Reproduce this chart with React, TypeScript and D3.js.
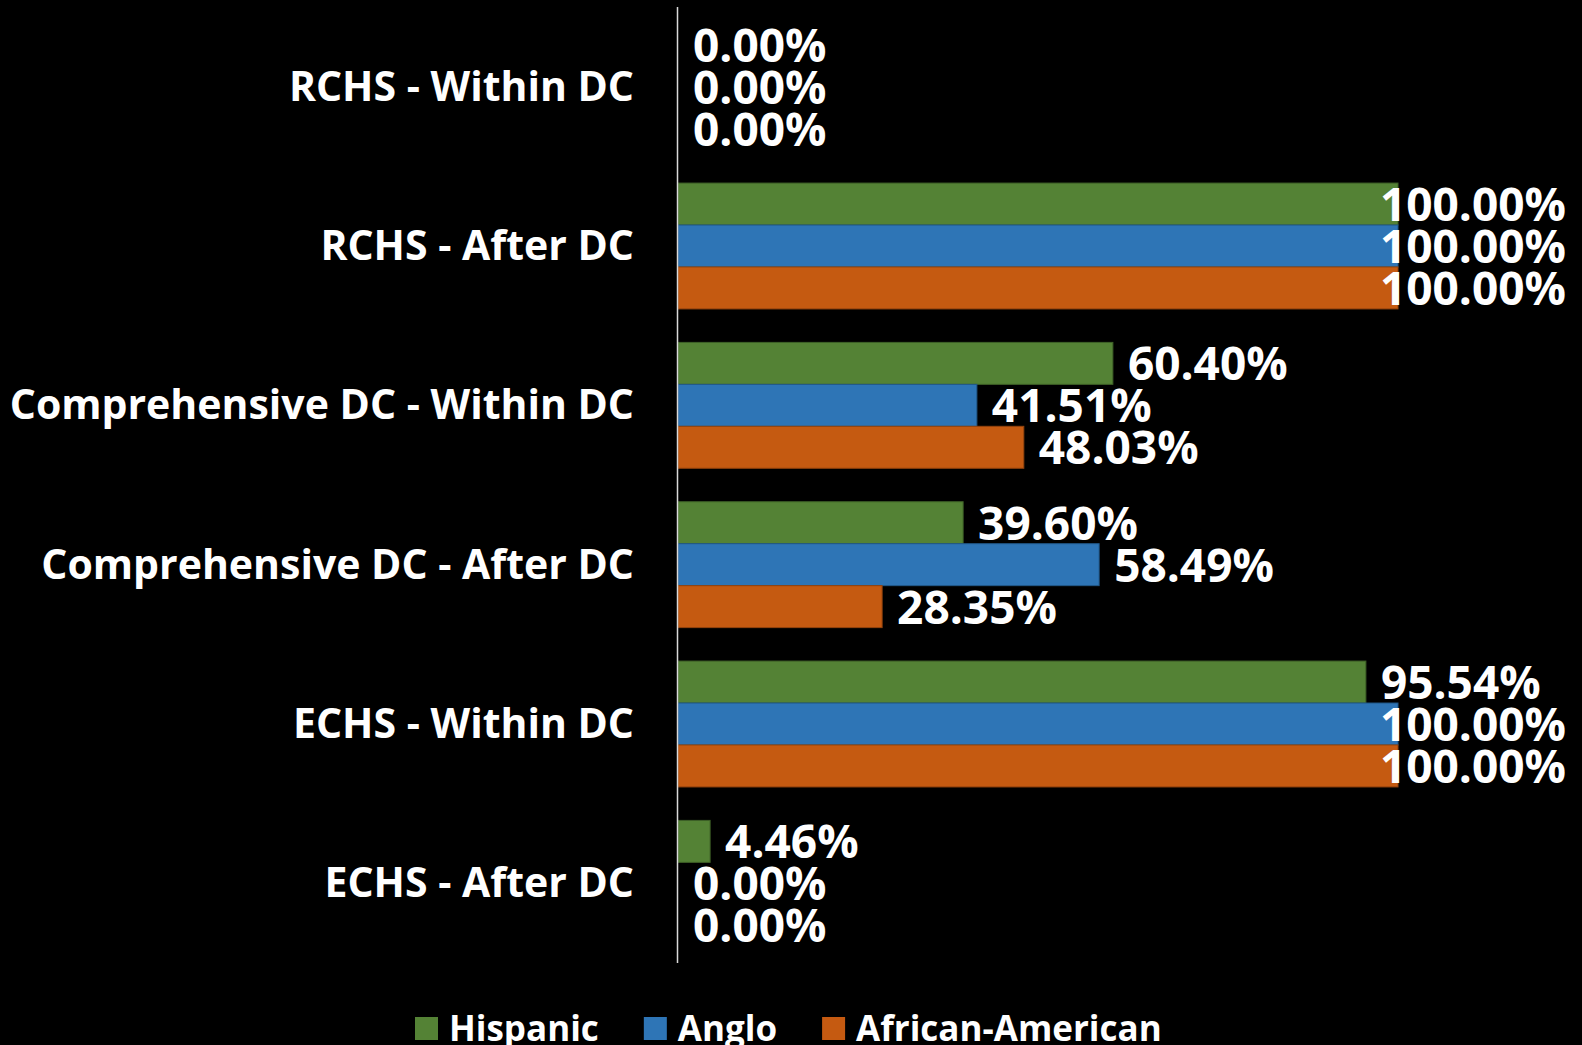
import React from 'react';
import * as d3 from 'd3';

const categories = [
  'RCHS - Within DC',
  'RCHS - After DC',
  'Comprehensive DC - Within DC',
  'Comprehensive DC - After DC',
  'ECHS - Within DC',
  'ECHS - After DC',
];
const seriesNames = ['Hispanic', 'Anglo', 'African-American'];
const hispanic = [0, 1, 0.604, 0.396, 0.9554, 0.0446];
const anglo = [0, 1, 0.4151, 0.5849, 1, 0];
const africanAmerican = [0, 1, 0.4803, 0.2835, 1, 0];
const seriesColors = ['#548235', '#2E75B6', '#C55A11'];
const seriesStroke = ['#3e6127', '#215889', '#93430d'];

const W = 1582;
const H = 1045;
const FONT = "'Open Sans', 'DejaVu Sans', sans-serif";

let ctx: CanvasRenderingContext2D | null = null;
function measure(text: string, size: number) {
  if (!ctx) ctx = document.createElement('canvas').getContext('2d');
  ctx!.font = `bold ${size}px ${FONT}`;
  return ctx!.measureText(text).width;
}

export default function App() {
  const values = [hispanic, anglo, africanAmerican];
  const y = d3.scaleBand<string>().domain(categories).range([7, 963])
    .paddingInner(0.21).paddingOuter(0.105);
  const ys = d3.scaleBand<string>().domain(seriesNames).range([0, y.bandwidth()]);
  const x = d3.scaleLinear().domain([0, 1]).range([678, 1398]);
  const fmt = d3.format('.2%');
  const labelSize = 46;
  const rightLimit = 1566;

  // legend layout
  let lx = 415;
  const legend = seriesNames.map((name, i) => {
    const item = { name, x: lx, color: seriesColors[i] };
    lx += 23 + 11 + measure(name, 35) + 45;
    return item;
  });

  return (
    <svg width={W} height={H} style={{ position: 'absolute', left: 0, top: 0, background: '#000' }}
         fontFamily={FONT}>
      <rect width={W} height={H} fill="#000" />
      {categories.map((c, ci) => (
        <g key={c} transform={`translate(0, ${y(c)})`}>
          {seriesNames.map((s, si) => (
            <rect key={s} x={x(0)} y={ys(s)} width={x(values[si][ci]) - x(0)} height={ys.bandwidth()}
                  fill={seriesColors[si]} stroke={values[si][ci] > 0 ? seriesStroke[si] : 'none'} strokeWidth={1} />
          ))}
        </g>
      ))}
      <line x1={677.5} x2={677.5} y1={7} y2={963} stroke="#d9d9d9" strokeWidth={1.5} />
      {categories.map((c) => (
        <text key={c} x={634} y={y(c)! + y.bandwidth() / 2 + 14} textAnchor="end" fill="#fff"
              fontSize={41} fontWeight="bold">{c}</text>
      ))}
      {categories.map((c, ci) => (
        <g key={c} transform={`translate(0, ${y(c)})`}>
          {seriesNames.map((s, si) => {
            const v = values[si][ci];
            const label = fmt(v);
            const w = measure(label, labelSize);
            let lxp = x(v) + 15;
            if (lxp + w > rightLimit) lxp = rightLimit - w;
            return (
              <text key={s} x={lxp} y={ys(s)! + ys.bandwidth() / 2 + 17} fill="#fff"
                    fontSize={labelSize} fontWeight="bold">{label}</text>
            );
          })}
        </g>
      ))}
      {legend.map((l) => (
        <g key={l.name}>
          <rect x={l.x} y={1017} width={23} height={23} fill={l.color} />
          <text x={l.x + 34} y={1041} fill="#fff" fontSize={35} fontWeight="bold">{l.name}</text>
        </g>
      ))}
    </svg>
  );
}
